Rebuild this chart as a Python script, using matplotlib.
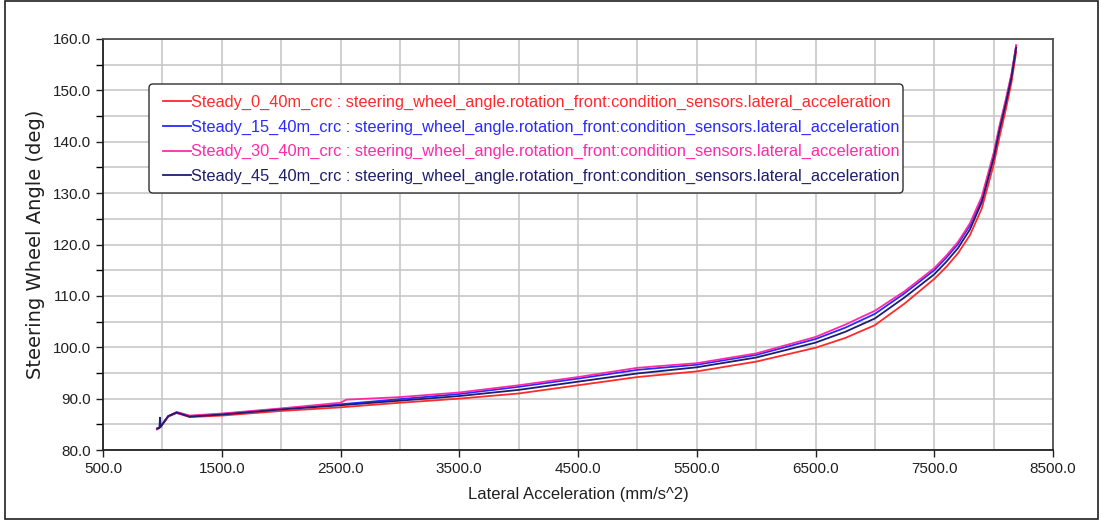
import matplotlib
matplotlib.use("Agg")
from matplotlib import pyplot as plt
from matplotlib.patches import Rectangle, FancyBboxPatch
from matplotlib.ticker import MultipleLocator, FormatStrFormatter

plt.rcParams['font.family'] = ['Liberation Sans', 'DejaVu Sans']

W, H = 1101, 522

# lateral acceleration (mm/s^2) sample points
accel = [955, 975, 980, 985, 1050, 1120, 1230, 1500, 2000, 2500, 2550, 3000,
         3500, 4000, 4500, 5000, 5500, 6000, 6500, 6750, 7000, 7250, 7500, 7600,
         7700, 7800, 7900, 8000, 8050, 8100, 8150, 8190]

# steering wheel angle (deg) per run
steady_0 = [84.0, 84.3, 84.4, 84.5, 86.5, 87.2, 86.4, 86.7, 87.6, 88.3, 88.4, 89.2,
            90.0, 91.0, 92.6, 94.2, 95.3, 97.2, 99.9, 101.8, 104.3, 108.5, 113.3, 115.6,
            118.3, 121.8, 127.0, 135.5, 141.0, 146.0, 151.5, 157.5]
steady_15 = [84.1, 84.4, 84.5, 84.6, 86.6, 87.3, 86.6, 87.0, 88.0, 88.9, 89.0, 89.9,
             90.9, 92.3, 93.9, 95.6, 96.6, 98.5, 101.6, 103.8, 106.5, 110.5, 115.0, 117.4,
             120.1, 123.7, 128.9, 137.3, 142.8, 147.6, 152.9, 158.7]
steady_30 = [84.1, 84.4, 84.5, 84.6, 86.6, 87.4, 86.7, 87.1, 88.1, 89.2, 89.8, 90.3,
             91.2, 92.6, 94.2, 96.0, 96.9, 98.8, 102.0, 104.4, 107.1, 110.9, 115.4, 117.8,
             120.5, 124.1, 129.3, 137.8, 143.2, 148.0, 153.2, 158.8]
steady_45 = [84.2, 84.3, 86.3, 84.5, 86.6, 87.3, 86.5, 86.9, 87.9, 88.7, 88.8, 89.6,
             90.5, 91.7, 93.3, 94.9, 96.1, 98.0, 100.9, 103.0, 105.6, 109.7, 114.2, 116.6,
             119.3, 122.9, 128.2, 136.8, 142.3, 147.2, 152.5, 158.3]

labels = [
    "Steady_0_40m_crc : steering_wheel_angle.rotation_front:condition_sensors.lateral_acceleration",
    "Steady_15_40m_crc : steering_wheel_angle.rotation_front:condition_sensors.lateral_acceleration",
    "Steady_30_40m_crc : steering_wheel_angle.rotation_front:condition_sensors.lateral_acceleration",
    "Steady_45_40m_crc : steering_wheel_angle.rotation_front:condition_sensors.lateral_acceleration",
]
colors = ["#ff2a2a", "#2a2aff", "#ff2aa8", "#1e1e6e"]

fig = plt.figure(figsize=(W / 100, H / 100), dpi=100)
ax = fig.add_axes([103 / W, 1 - 450 / H, 950 / W, 411 / H])

for ys, lab, c in zip([steady_0, steady_15, steady_30, steady_45], labels, colors):
    ax.plot(accel, ys, color=c, lw=1.3, label=lab)

ax.set_xlim(500, 8500)
ax.set_ylim(80, 160)
ax.xaxis.set_major_locator(MultipleLocator(1000, offset=500))
ax.xaxis.set_minor_locator(MultipleLocator(500))
ax.yaxis.set_major_locator(MultipleLocator(10))
ax.yaxis.set_minor_locator(MultipleLocator(5))
ax.xaxis.set_major_formatter(FormatStrFormatter("%.1f"))
ax.yaxis.set_major_formatter(FormatStrFormatter("%.1f"))
ax.grid(True, which="both", color="#c8c8c8", lw=1.2)
ax.set_axisbelow(True)
ax.tick_params(which="major", direction="out", length=5, width=1, labelsize=11, colors="#202020")
ax.tick_params(axis="y", which="minor", direction="out", length=5, width=1)
ax.tick_params(axis="x", which="minor", length=0)
for s in ["left", "bottom"]:
    ax.spines[s].set_color("#202020")
    ax.spines[s].set_linewidth(1.3)
for s in ["top", "right"]:
    ax.spines[s].set_color("#505050")
    ax.spines[s].set_linewidth(1.3)

ax.set_xlabel("Lateral Acceleration (mm/s^2)", fontsize=12, color="#202020", labelpad=8)
ax.set_ylabel("Steering Wheel Angle (deg)", fontsize=14, color="#202020", labelpad=6,
              family="DejaVu Sans")

# legend box drawn by hand so the padding matches
box = FancyBboxPatch((149 / W, 1 - 193 / H), 754 / W, 109 / H,
                     boxstyle="round,pad=0,rounding_size=%f" % (4 / W),
                     mutation_aspect=W / H, transform=fig.transFigure,
                     facecolor="white", edgecolor="#303030", lw=1.0, zorder=4)
ax.add_patch(box)

leg = ax.legend(loc="upper left", bbox_to_anchor=(163 / W, 1 - 95 / H),
                bbox_transform=fig.transFigure, fontsize=11.8,
                handlelength=1.68, handletextpad=0.05, labelspacing=0.58,
                borderaxespad=0, borderpad=0, frameon=False)
leg.set_zorder(5)
for t, c in zip(leg.get_texts(), colors):
    t.set_color(c)

fig.patches.append(Rectangle((5 / W, 3 / H), 1093 / W, 518 / H,
                             transform=fig.transFigure, fill=False,
                             edgecolor="#202020", lw=1.2))

fig.savefig("out.png", dpi=100)
